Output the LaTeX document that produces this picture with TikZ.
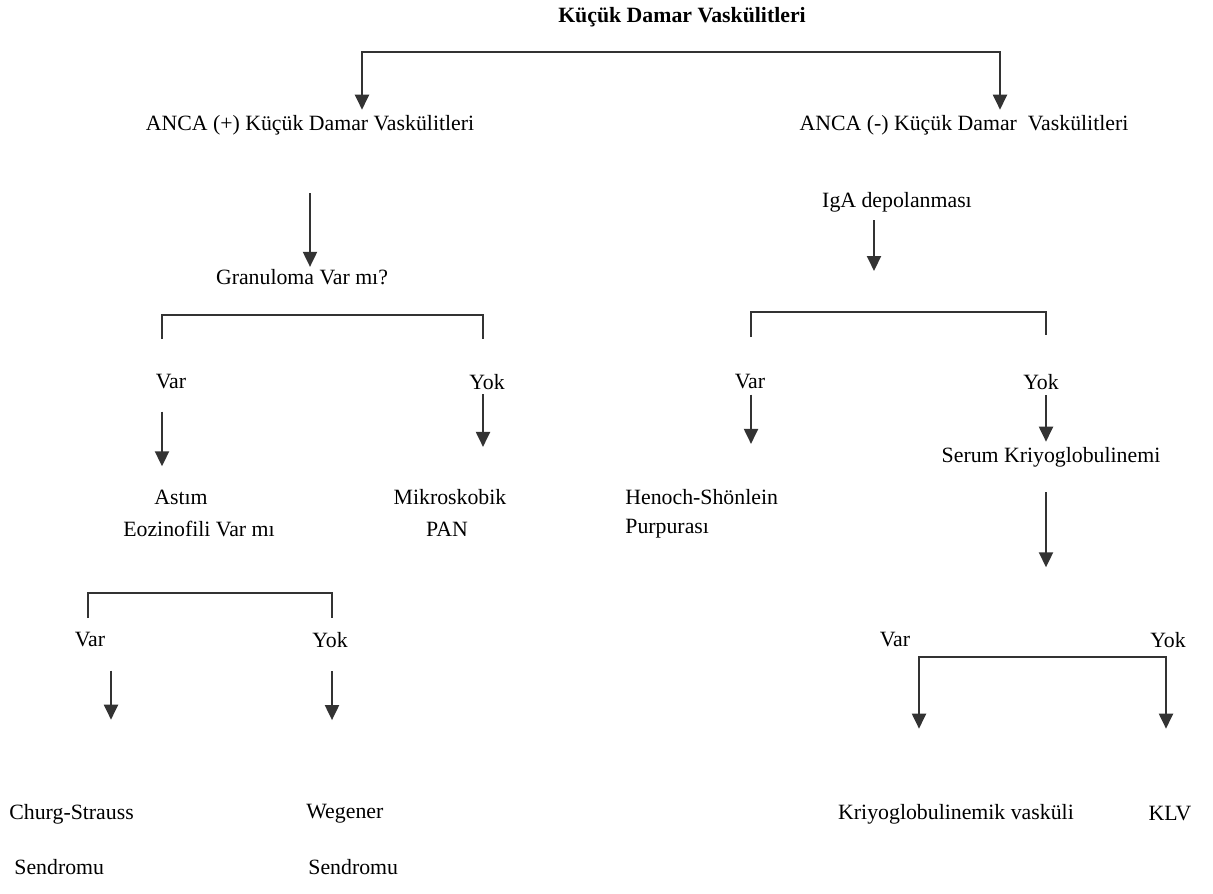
\documentclass[tikz,border=0pt]{standalone}
\usepackage{fontspec}
\setmainfont{Liberation Serif}
\usetikzlibrary{arrows.meta}
\tikzset{
    %Define standard arrow tip
    >={Triangle[width=7pt,length=7.5pt]},
    %Define style for texts
    lbl/.style={
           font=\fontsize{10.9}{13}\selectfont,
           inner sep=1pt},
    rootlbl/.style={
           font=\fontsize{10.9}{13}\selectfont\bfseries,
           inner sep=1pt},
    % Define arrow style
    pil/.style={
           ->,
           line width=1pt,
           draw=black!80},
    brk/.style={
           line width=0.8pt,
           draw=black!80}
}
\begin{document}
\begin{tikzpicture}[x=0.5pt,y=-0.5pt]
\useasboundingbox (0,0) rectangle (1213,893);
 %nodes
\node[rootlbl] (root) at (682,17) {Küçük Damar Vaskülitleri};
\node[lbl] (anp) at (310,125) {ANCA (+) Küçük Damar Vaskülitleri};
\node[lbl] (ann) at (964,125) {ANCA (-) Küçük Damar\ \ Vaskülitleri};
\node[lbl] (gran) at (302,277) {Granuloma Var mı?};
\node[lbl] (iga) at (897,202) {IgA depolanması};
\node[lbl] (var1) at (171,382) {Var};
\node[lbl] (yok1) at (487,382) {Yok};
\node[lbl] (var3) at (750,382) {Var};
\node[lbl] (yok3) at (1041,382) {Yok};
\node[lbl] (ast) at (181,497) {Astım};
\node[lbl] (eoz) at (199,529) {Eozinofili Var mı};
\node[lbl] (mik) at (450,497) {Mikroskobik};
\node[lbl] (pan) at (447,529) {PAN};
\node[lbl, anchor=west] (hen) at (623,497) {Henoch-Shönlein};
\node[lbl, anchor=west] (pur) at (623,529) {Purpurası};
\node[lbl] (ser) at (1051,457) {Serum Kriyoglobulinemi};
\node[lbl] (var2) at (90,640) {Var};
\node[lbl] (yok2) at (330,640) {Yok};
\node[lbl] (var4) at (895,640) {Var};
\node[lbl] (yok4) at (1168,640) {Yok};
\node[lbl, anchor=west] (chu) at (7,814) {Churg-Strauss};
\node[lbl, anchor=west] (sen1) at (12,867) {Sendromu};
\node[lbl, anchor=west] (weg) at (304,814) {Wegener};
\node[lbl, anchor=west] (sen2) at (306,867) {Sendromu};
\node[lbl] (kri) at (956,814) {Kriyoglobulinemik vasküli};
\node[lbl] (klv) at (1170,814) {KLV};

 %bracket corners
\coordinate (tl) at (362,52);
\coordinate (tr) at (1000,52);
\coordinate (b1l) at (162,339);
\coordinate (b1r) at (483,339);
\coordinate (b2l) at (88,618);
\coordinate (b2r) at (332,618);
\coordinate (b3l) at (751,337);
\coordinate (b3r) at (1046,335);
\coordinate (b4l) at (919,657);
\coordinate (b4r) at (1166,657);
\coordinate (igaar) at (874,271);
\coordinate (a2l) at (111,0);

 %connectors
\draw[pil, <->, shorten <=1.5pt, shorten >=1.5pt] (tl |- anp.north) -- (tl) -- (tr) -- (tr |- ann.north);
\draw[pil, shorten <=28pt] (anp.south) -- (anp.south |- gran.north);
\draw[brk] (b1l) -- ++(0,-24) -| (b1r);
\draw[pil, shorten <=10pt, shorten >=10.5pt] (var1.south -| b1l) -- (ast.north -| b1l);
\draw[pil, shorten <=1pt, shorten >=20pt] (yok1.south -| b1r) -- (mik.north -| b1r);
\draw[brk] (b2l) -- ++(0,-25) -| (b2r);
\draw[pil, shorten <=10.5pt, shorten >=41pt] (var2.south -| a2l) -- (chu.north -| a2l);
\draw[pil, shorten <=10.5pt, shorten >=41pt] (yok2.south -| b2r) -- (weg.north -| b2r);
\draw[pil, shorten <=3pt] (iga.south -| igaar) -- (igaar);
\draw[brk] (b3l) -- ++(0,-25) -| (b3r);
\draw[pil, shorten <=1.5pt, shorten >=21.5pt] (var3.south -| b3l) -- (hen.north -| b3l);
\draw[pil, shorten <=1.5pt, shorten >=1.5pt] (yok3.south -| b3r) -- (ser.north -| b3r);
\draw[pil, shorten <=11.5pt, shorten >=31.5pt] (ser.south -| b3r) -- (var4.north -| b3r);
\draw[pil, <->, shorten <=36.5pt, shorten >=36.5pt] (kri.north -| b4l) -- (b4l) -- (b4r) -- (kri.north -| b4r);
\end{tikzpicture}
\end{document}
